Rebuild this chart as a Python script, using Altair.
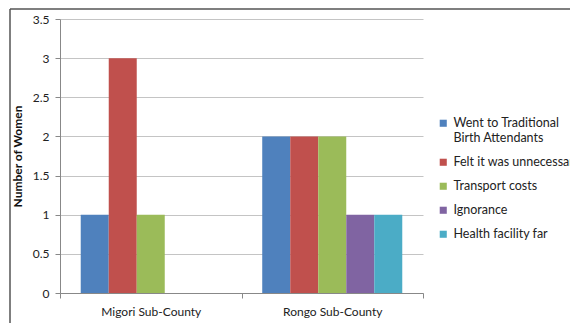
import altair as alt
import pandas as pd

counties = ["Migori Sub-County", "Rongo Sub-County"]
reasons = ["Went to Traditional Birth Attendants", "Felt it was unnecessary",
           "Transport costs", "Ignorance", "Health facility far"]
migori = [1, 3, 1, None, None]
rongo = [2, 2, 2, 1, 1]
colors = ["#4F81BD", "#C0504D", "#9BBB59", "#8064A2", "#4BACC6"]
y_ticks = [0, 0.5, 1, 1.5, 2, 2.5, 3, 3.5]

rows = []
for c, vals in zip(counties, [migori, rongo]):
    for r, v in zip(reasons, vals):
        if v is not None:
            rows.append({"county": c, "reason": r, "value": v})
df = pd.DataFrame(rows)

FONT = "Lato"

bars = alt.Chart(df).mark_bar(size=28).encode(
    x=alt.X("county:N", sort=counties, title=None,
            scale=alt.Scale(paddingInner=0, paddingOuter=0),
            axis=alt.Axis(labelAngle=0, labelFont=FONT, labelFontSize=12, labelColor="#222",
                          labelPadding=8, tickBand="extent", tickSize=5, tickColor="#888",
                          domainColor="#888", grid=False)),
    xOffset=alt.XOffset("reason:N", sort=reasons,
                        scale=alt.Scale(domain=reasons, paddingInner=0, paddingOuter=0.74)),
    y=alt.Y("value:Q", title="Number of Women",
            scale=alt.Scale(domain=[0, 3.5], nice=False),
            axis=alt.Axis(values=y_ticks, format="~g", labelFont=FONT, labelFontSize=12,
                          labelColor="#222", tickSize=5, tickColor="#888", domainColor="#888",
                          gridColor="#c4c4c4", titleFont=FONT, titleFontSize=12,
                          titleFontWeight="bold", titleColor="#111", titlePadding=8,
                          labelPadding=6)),
    color=alt.Color("reason:N", sort=reasons,
                    scale=alt.Scale(domain=reasons, range=colors),
                    legend=alt.Legend(title=None, orient="none", legendX=377, legendY=98,
                                      symbolType="square", symbolSize=50, symbolStrokeWidth=0,
                                      labelFont=FONT, labelFontSize=12.5, labelColor="#222",
                                      labelLimit=300, rowPadding=11, labelOffset=4,
                                      labelExpr="datum.label == 'Went to Traditional Birth Attendants' ? ['Went to Traditional', 'Birth Attendants'] : datum.label")),
)

frame_top = alt.Chart(pd.DataFrame({"a": [0]})).mark_rule(color="#555", strokeWidth=1.5).encode(
    x=alt.value(-50), x2=alt.value(600), y=alt.value(-10))
frame_left = alt.Chart(pd.DataFrame({"a": [0]})).mark_rule(color="#555", strokeWidth=1.5).encode(
    x=alt.value(-50), y=alt.value(-10), y2=alt.value(400))

chart = alt.layer(frame_top, frame_left, bars).properties(
    width=363, height=274,
    autosize=alt.AutoSizeParams(type="none"),
    padding={"left": 60, "top": 19, "right": 147, "bottom": 30},
    background="white",
).configure_view(stroke=None)

chart.save("out.html", embed_options={"renderer": "svg", "actions": False})
